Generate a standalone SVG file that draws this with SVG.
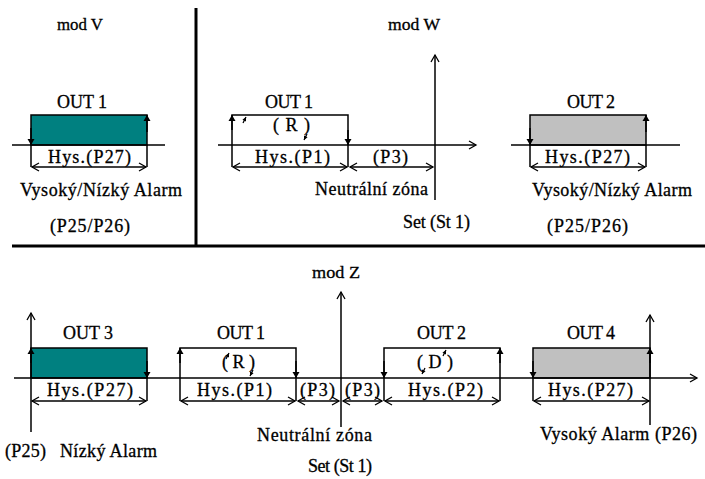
<svg xmlns="http://www.w3.org/2000/svg" width="705" height="479" viewBox="0 0 705 479">
<style>
text{font-family:"Liberation Serif","Times New Roman",serif;font-size:18px;fill:#000;stroke:#000;stroke-width:0.3}
.sq{font-size:17px}
.ln{stroke:#000;stroke-width:1.5;fill:none}
.dim{stroke:#000;stroke-width:1.3;fill:none;marker-start:url(#open);marker-end:url(#open)}
.ax{stroke:#000;stroke-width:1.5;fill:none;marker-end:url(#open)}
.ar{stroke:#000;stroke-width:1.5;fill:none;marker-end:url(#solid)}
.sm{stroke:#000;stroke-width:1.2;fill:none;marker-end:url(#tiny)}
.teal{fill:#008080;stroke:#000;stroke-width:1.5}
.gray{fill:#c0c0c0;stroke:#000;stroke-width:1.5}
.div{stroke:#000;stroke-width:3;fill:none}
</style>
<defs>
<marker id="open" markerUnits="userSpaceOnUse" markerWidth="10" markerHeight="10" refX="7" refY="4" orient="auto-start-reverse" overflow="visible"><path d="M0,0 L7,4 L0,8" fill="none" stroke="#000" stroke-width="1.3"/></marker>
<marker id="solid" markerUnits="userSpaceOnUse" markerWidth="8" markerHeight="8" refX="6" refY="3.5" orient="auto" overflow="visible"><path d="M0,0 L6,3.5 L0,7 Z" fill="#000"/></marker>
<marker id="tiny" markerUnits="userSpaceOnUse" markerWidth="6" markerHeight="6" refX="4" refY="2" orient="auto" overflow="visible"><path d="M0,0 L4,2 L0,4 Z" fill="#000"/></marker>
</defs>
<g id="dividers">
<path class="div" d="M196,8 V246"/>
<path class="div" d="M12,246 H705"/>
</g>
<g id="modV">
<text class="sq" x="57" y="30" textLength="46" lengthAdjust="spacingAndGlyphs">mod V</text>
<text x="57" y="108" textLength="50">OUT 1</text>
<rect class="teal" x="31" y="115" width="116" height="30"/>
<text x="48" y="163" textLength="83">Hys.(P27)</text>
<text x="20" y="196" textLength="162">Vysoký/Nízký Alarm</text>
<text x="50" y="232" textLength="80">(P25/P26)</text>
</g>
<g id="modW">
<text class="sq" x="388" y="30" textLength="52" lengthAdjust="spacingAndGlyphs">mod W</text>
<text x="265" y="108" textLength="48">OUT 1</text>
<text x="273" y="131" textLength="37">(R)</text>
<text x="255" y="163" textLength="75">Hys.(P1)</text>
<text x="373" y="163" textLength="35">(P3)</text>
<text x="315" y="195" textLength="113">Neutrální zóna</text>
<text x="403" y="228" textLength="67">Set (St 1)</text>
</g>
<g id="modW-out2">
<text x="567" y="108" textLength="48">OUT 2</text>
<rect class="gray" x="530" y="115" width="116" height="30"/>
<text x="545" y="163" textLength="85">Hys.(P27)</text>
<text x="532" y="196" textLength="160">Vysoký/Nízký Alarm</text>
<text x="547" y="232" textLength="81">(P25/P26)</text>
</g>
<g id="modZ">
<text class="sq" x="312" y="278" textLength="48" lengthAdjust="spacingAndGlyphs">mod Z</text>
<text x="217" y="339" textLength="48">OUT 1</text>
<text x="222" y="368" textLength="33">(R)</text>
<text x="197" y="396" textLength="75">Hys.(P1)</text>
<text x="300" y="396" textLength="35">(P3)</text>
<text x="345" y="396" textLength="35">(P3)</text>
<text x="257" y="441" textLength="115">Neutrální zóna</text>
<text x="308" y="472" textLength="64">Set (St 1)</text>
</g>
<g id="out3">
<text x="63" y="339" textLength="50">OUT 3</text>
<rect class="teal" x="31" y="348" width="116" height="30"/>
<text x="47" y="396" textLength="86">Hys.(P27)</text>
<text x="5" y="457" textLength="41">(P25)</text>
<text x="60" y="457" textLength="97">Nízký Alarm</text>
</g>
<g id="out2">
<text x="417" y="339" textLength="49">OUT 2</text>
<text x="417" y="368" textLength="36">(D)</text>
<text x="408" y="396" textLength="75">Hys.(P2)</text>
</g>
<g id="out4">
<text x="567" y="339" textLength="48">OUT 4</text>
<rect class="gray" x="533" y="348" width="117" height="30"/>
<text x="548" y="396" textLength="85">Hys.(P27)</text>
<text x="540" y="440" textLength="157">Vysoký Alarm (P26)</text>
</g>
<g id="connectors">
<path class="ln" d="M12,145 H165"/>
<path class="ar" d="M31,128 V145"/>
<path class="ar" d="M147,132 V115"/>
<path class="ln" d="M31,145 V167 M147,145 V167"/>
<path class="dim" d="M32,167 H146"/>
<path class="ax" d="M435,200 V55"/>
<path class="ax" d="M218,145 H476"/>
<path class="ln" d="M232,167 V115 H348 V167"/>
<path class="ar" d="M232,130 V115"/>
<path class="ar" d="M348,130 V145"/>
<path class="sm" d="M243,123 L246,117"/>
<path class="sm" d="M307,134 L304,140"/>
<path class="dim" d="M233,167 H347"/>
<path class="dim" d="M350,167 H433"/>
<path class="ln" d="M511,145 H680"/>
<path class="ar" d="M530,128 V145"/>
<path class="ar" d="M646,132 V115"/>
<path class="ln" d="M530,145 V167 M646,145 V167"/>
<path class="dim" d="M531,167 H645"/>
<path class="ax" d="M14,378 H697"/>
<path class="ax" d="M341,427 V292"/>
<path class="ax" d="M31,432 V313"/>
<path class="ax" d="M650,425 V315"/>
<path class="ar" d="M31,363 V348"/>
<path class="ar" d="M147,361 V378"/>
<path class="ln" d="M147,378 V401"/>
<path class="dim" d="M32,401 H146"/>
<path class="ln" d="M180,401 V348 H296 V401"/>
<path class="ar" d="M180,363 V348"/>
<path class="ar" d="M296,361 V378"/>
<path class="sm" d="M226,359 L229,353"/>
<path class="sm" d="M253,370 L250,376"/>
<path class="dim" d="M181,401 H295"/>
<path class="dim" d="M298,401 H339"/>
<path class="dim" d="M343,401 H382"/>
<path class="ln" d="M384,401 V348 H500 V401"/>
<path class="ar" d="M384,361 V378"/>
<path class="ar" d="M500,363 V348"/>
<path class="sm" d="M443,356 L446,350"/>
<path class="sm" d="M425,368 L422,374"/>
<path class="dim" d="M385,401 H499"/>
<path class="ar" d="M533,361 V378"/>
<path class="ar" d="M650,363 V348"/>
<path class="ln" d="M533,378 V401"/>
<path class="dim" d="M534,401 H649"/>
</g>
</svg>
